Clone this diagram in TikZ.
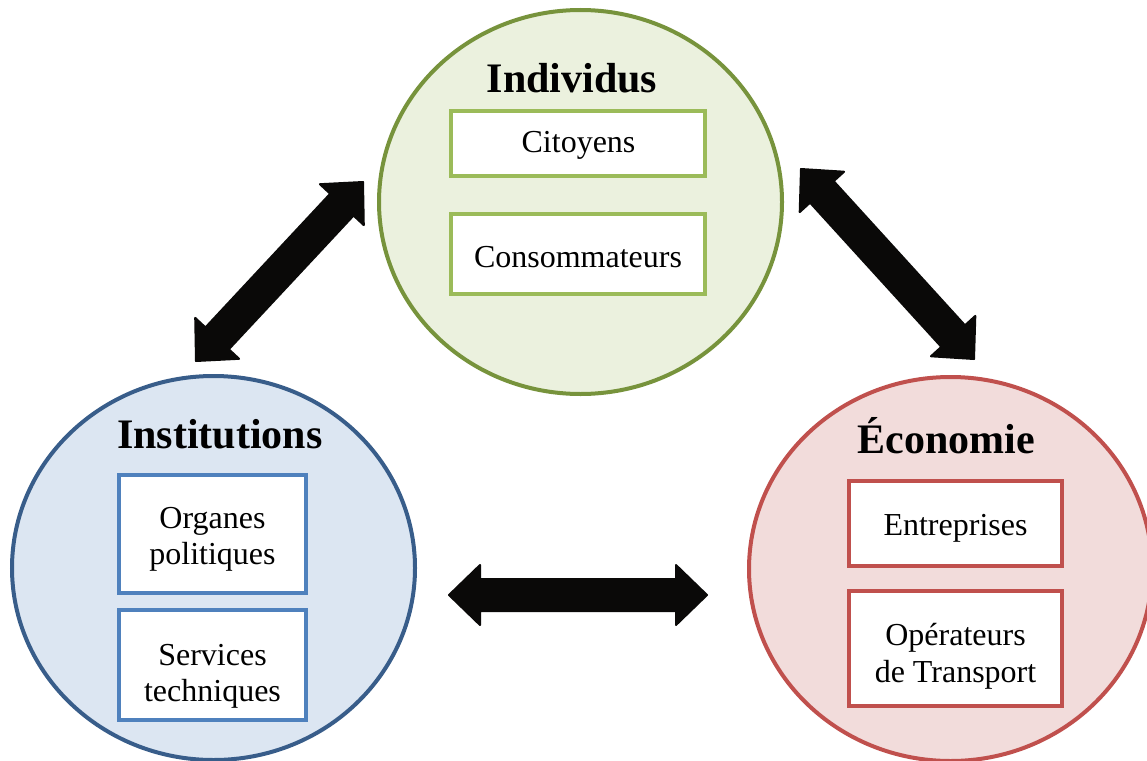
\documentclass[tikz,border=0pt]{standalone}
\usepackage{fontspec}
\setmainfont{Liberation Serif}
\usetikzlibrary{shapes.geometric,calc}
\definecolor{gStroke}{HTML}{77933C}
\definecolor{gFill}{HTML}{EBF1DE}
\definecolor{gBox}{HTML}{9BBB59}
\definecolor{bStroke}{HTML}{385D8A}
\definecolor{bFill}{HTML}{DCE6F2}
\definecolor{bBox}{HTML}{4F81BD}
\definecolor{rStroke}{HTML}{C0504D}
\definecolor{rFill}{HTML}{F2DCDB}
\definecolor{rBox}{HTML}{C0504D}
\definecolor{arrowInk}{HTML}{0A0908}
\tikzset{
  ell/.style={ellipse, line width=4pt, minimum width=403pt, minimum height=384pt, inner sep=0pt},
  boxnode/.style={rectangle, line width=4pt, fill=white, inner sep=0pt},
  ttl/.style={font=\fontsize{42}{50}\selectfont\bfseries, anchor=base, inner sep=0pt},
  lbl/.style={font=\fontsize{32}{36}\selectfont, anchor=base, inner sep=0pt, align=center},
  blockarrow/.style={fill=arrowInk, draw=arrowInk, line width=2pt, line join=round}
}
\newcommand{\dblarrow}[2]{%
  \path[blockarrow]
    (#1)
    -- ($($(#1)!31pt!(#2)$)!30pt!90:(#2)$)
    -- ($($(#1)!31pt!(#2)$)!16pt!90:(#2)$)
    -- ($($(#2)!31pt!(#1)$)!16pt!-90:(#1)$)
    -- ($($(#2)!31pt!(#1)$)!30pt!-90:(#1)$)
    -- (#2)
    -- ($($(#2)!31pt!(#1)$)!30pt!90:(#1)$)
    -- ($($(#2)!31pt!(#1)$)!16pt!90:(#1)$)
    -- ($($(#1)!31pt!(#2)$)!16pt!-90:(#2)$)
    -- ($($(#1)!31pt!(#2)$)!30pt!-90:(#2)$)
    -- cycle;%
}
\begin{document}
\begin{tikzpicture}[x=1pt, y=-1pt]
\useasboundingbox (0,0) rectangle (1147,760);
% circles
\node[ell, draw=gStroke, fill=gFill] (ind) at (580.5,202) {};
\node[ell, draw=bStroke, fill=bFill] (ins) at (213.5,568) {};
\node[ell, draw=rStroke, fill=rFill] (eco) at (950.5,569) {};
% titles
\node[ttl] (tInd) at (572,92) {Individus};
\node[ttl] (tIns) at (220,448) {Institutions};
\node[ttl] (tEco) at (946,453) {Économie};
% boxes Individus
\node[boxnode, draw=gBox, minimum width=254pt, minimum height=65pt] (bCit) at (578,143.5) {};
\node[boxnode, draw=gBox, minimum width=254pt, minimum height=80pt] (bCon) at (578,254) {};
\node[lbl] (lCit) at (578.5,152) {Citoyens};
\node[lbl] (lCon) at (578,267) {Consommateurs};
% boxes Institutions
\node[boxnode, draw=bBox, minimum width=187pt, minimum height=118pt] (bOrg) at (212.5,534) {};
\node[boxnode, draw=bBox, minimum width=187pt, minimum height=110pt] (bSer) at (212.5,665) {};
\node[lbl] (lOrg1) at (212.5,528) {Organes};
\node[lbl] (lOrg2) at (212.5,564) {politiques};
\node[lbl] (lSer1) at (212.5,665) {Services};
\node[lbl] (lSer2) at (212.5,701) {techniques};
% boxes Economie
\node[boxnode, draw=rBox, minimum width=213pt, minimum height=85pt] (bEnt) at (955.5,523.5) {};
\node[boxnode, draw=rBox, minimum width=213pt, minimum height=115pt] (bOpe) at (955.5,648.5) {};
\node[lbl] (lEnt) at (955.5,535) {Entreprises};
\node[lbl] (lOpe1) at (955.5,645) {Opérateurs};
\node[lbl] (lOpe2) at (955.5,682) {de Transport};
% arrow end points
\coordinate (aL1) at (363,182);
\coordinate (aL2) at (196,361);
\coordinate (aR1) at (801,169);
\coordinate (aR2) at (974,359);
\coordinate (aH1) at (449,595);
\coordinate (aH2) at (707,595);
\dblarrow{aL1}{aL2}
\dblarrow{aR1}{aR2}
\dblarrow{aH1}{aH2}
\end{tikzpicture}
\end{document}
